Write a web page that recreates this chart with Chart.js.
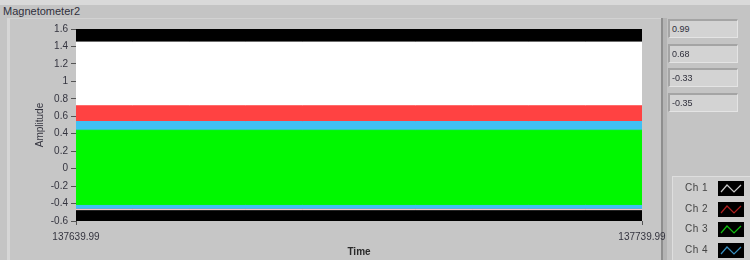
<!DOCTYPE html>
<html>
<head>
<meta charset="utf-8">
<script src="https://cdn.jsdelivr.net/npm/chart.js@4.4.1/dist/chart.umd.min.js"></script>
<style>
  html, body { margin: 0; padding: 0; }
  body {
    width: 750px; height: 260px; overflow: hidden; position: relative;
    background: #c4c4c4; font-family: "Liberation Sans", Arial, sans-serif; color: #30303c;
  }
  #topStrip { position: absolute; left: 0; top: 0; width: 750px; height: 5px; background: #d9d9d9; }
  #title { position: absolute; left: 3px; top: 5px; font-size: 11px; }
  #panel {
    position: absolute; left: 7px; top: 18px; width: 654px; height: 242px;
    background: #c6c6c6; border-left: 3px solid #d6d6d6; border-top: 1px solid #d2d2d2;
  }
  #sep { position: absolute; left: 661px; top: 18px; width: 2px; height: 242px; background: #8e8e8e; }
  #sep2 { position: absolute; left: 663px; top: 18px; width: 4px; height: 242px; background: #b4b4b4; }
  canvas { position: absolute; left: 0; top: 0; }
  .ind {
    position: absolute; left: 668px; width: 65px; height: 16px; background: #d3d3d3;
    border-top: 2px solid #a4a4a4; border-left: 2px solid #a4a4a4;
    border-right: 1px solid #e4e4e4; border-bottom: 1px solid #e4e4e4;
    font-size: 9px; line-height: 16px; padding-left: 2px; box-sizing: content-box;
  }
  #legend {
    position: absolute; left: 672px; top: 176px; width: 78px; height: 84px;
    background: #cdcdcd; border-top: 1px solid #dedede; border-left: 1px solid #dedede;
  }
  .lg { position: absolute; left: 12px; font-size: 10px; color: #444; letter-spacing: 0.5px; }
  .ic { position: absolute; left: 45px; width: 26px; height: 15px; background: #000; }
</style>
</head>
<body>
<div id="topStrip"></div>
<div id="title">Magnetometer2</div>
<div id="panel"></div>
<div id="sep"></div>
<div id="sep2"></div>
<canvas id="chart" width="750" height="260"></canvas>
<div id="indicators"></div>
<div id="legend"></div>
<script>
// time axis (s)
const times = [137639.99, 137649.99, 137659.99, 137669.99, 137679.99, 137689.99,
               137699.99, 137709.99, 137719.99, 137729.99, 137739.99];

// envelope of each channel over the window (max / min)
const ch1Max = [1.45, 1.45, 1.45, 1.45, 1.45, 1.45, 1.45, 1.45, 1.45, 1.45, 1.45];
const ch1Min = [-0.47, -0.47, -0.47, -0.47, -0.47, -0.47, -0.47, -0.47, -0.47, -0.47, -0.47];
const ch2Max = [0.72, 0.72, 0.72, 0.72, 0.72, 0.72, 0.72, 0.72, 0.72, 0.72, 0.72];
const ch2Min = [-0.46, -0.46, -0.46, -0.46, -0.46, -0.46, -0.46, -0.46, -0.46, -0.46, -0.46];
const ch3Max = [0.44, 0.44, 0.44, 0.44, 0.44, 0.44, 0.44, 0.44, 0.44, 0.44, 0.44];
const ch3Min = [-0.41, -0.41, -0.41, -0.41, -0.41, -0.41, -0.41, -0.41, -0.41, -0.41, -0.41];
const ch4Max = [0.54, 0.54, 0.54, 0.54, 0.54, 0.54, 0.54, 0.54, 0.54, 0.54, 0.54];
const ch4Min = [-0.455, -0.455, -0.455, -0.455, -0.455, -0.455, -0.455, -0.455, -0.455, -0.455, -0.455];

const yTicks = [1.6, 1.4, 1.2, 1, 0.8, 0.6, 0.4, 0.2, 0, -0.2, -0.4, -0.6];
const currentValues = ["0.99", "0.68", "-0.33", "-0.35"];
const channelNames = ["Ch 1", "Ch 2", "Ch 3", "Ch 4"];
const channelColors = ["#ffffff", "#ff4242", "#00f800", "#40c0f4"];
const iconColors = ["#c8c8c8", "#b02020", "#10c010", "#3a90c0"];

function pts(ys) {
    return times.map((t, i) => ({ x: t, y: ys[i] }));
}

const datasets = [];
function band(name, hi, lo, color, order) {
    const loIndex = datasets.length + 1;
    datasets.push({
        label: name, data: pts(hi), borderColor: color, backgroundColor: color,
        borderWidth: 1, pointRadius: 0, fill: loIndex, order: order
    });
    datasets.push({
        label: name + " min", data: pts(lo), borderColor: color, backgroundColor: color,
        borderWidth: 1, pointRadius: 0, fill: false, order: order
    });
}
band("Ch 3", ch3Max, ch3Min, channelColors[2], 0);
band("Ch 4", ch4Max, ch4Min, channelColors[3], 1);
band("Ch 2", ch2Max, ch2Min, channelColors[1], 2);
band("Ch 1", ch1Max, ch1Min, channelColors[0], 3);

const plotBg = {
    id: "plotBg",
    beforeDatasetsDraw(chart) {
        const a = chart.chartArea;
        chart.ctx.save();
        chart.ctx.fillStyle = "#000";
        chart.ctx.fillRect(a.left, a.top, a.right - a.left, a.bottom - a.top);
        chart.ctx.restore();
    }
};

const font = { family: "Liberation Sans", size: 10 };
const textColor = "#34343f";

new Chart(document.getElementById("chart"), {
    type: "line",
    data: { datasets },
    plugins: [plotBg],
    options: {
        responsive: false,
        animation: false,
        layout: { padding: { left: 0, top: 29, right: 108, bottom: 0 } },
        plugins: { legend: { display: false }, tooltip: { enabled: false } },
        scales: {
            x: {
                type: "linear",
                min: times[0],
                max: times[times.length - 1],
                afterBuildTicks: s => { s.ticks = [{ value: times[0] }, { value: times[times.length - 1] }]; },
                afterFit: s => { s.height = 39; },
                grid: { drawOnChartArea: false, drawTicks: true, tickLength: 4, color: "#555" },
                border: { display: false },
                ticks: {
                    font, color: textColor, padding: 6, maxRotation: 0, autoSkip: false,
                    callback: v => v.toFixed(2)
                },
                title: { display: true, text: "Time", font: { family: "Liberation Sans", size: 10, weight: "bold" },
                         color: "#2a2a2a", padding: { top: 0, bottom: 2 } }
            },
            y: {
                min: -0.6,
                max: 1.6,
                afterBuildTicks: s => { s.ticks = yTicks.map(v => ({ value: v })); },
                afterFit: s => { s.width = 76; },
                grid: { drawOnChartArea: false, drawTicks: true, tickLength: 5, color: "#555" },
                border: { display: false },
                ticks: { font, color: textColor, padding: 3, callback: v => String(+v.toFixed(1)) },
                title: { display: true, text: "Amplitude", font, color: textColor, padding: { top: 34, bottom: 0 } }
            }
        }
    }
});

// digital indicators
const ind = document.getElementById("indicators");
currentValues.forEach((v, i) => {
    const d = document.createElement("div");
    d.className = "ind";
    d.style.top = (19 + i * 24.5) + "px";
    d.textContent = v;
    ind.appendChild(d);
});

// plot legend
const legend = document.getElementById("legend");
channelNames.forEach((name, i) => {
    const t = document.createElement("div");
    t.className = "lg";
    t.style.top = (5 + i * 20.5) + "px";
    t.textContent = name;
    legend.appendChild(t);
    const ic = document.createElement("div");
    ic.className = "ic";
    ic.style.top = (4 + i * 20.5) + "px";
    ic.innerHTML = '<svg width="26" height="15"><polyline points="3,11 9,4 16,11 23,4" fill="none" stroke="' +
        iconColors[i] + '" stroke-width="1.2"/></svg>';
    legend.appendChild(ic);
});
</script>
</body>
</html>
